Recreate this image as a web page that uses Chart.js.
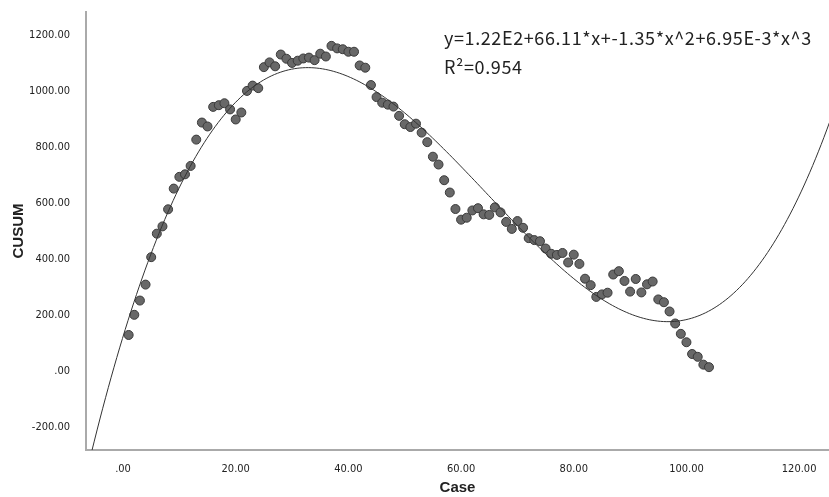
<!DOCTYPE html>
<html>
<head>
<meta charset="utf-8">
<script src="https://cdn.jsdelivr.net/npm/chart.js@4.4.1/dist/chart.umd.min.js"></script>
<style>
  body { margin: 0; background: #fff; }
  #wrap { width: 829px; height: 497px; position: relative; }
</style>
</head>
<body>
<div id="wrap"><canvas id="grafico"></canvas></div>
<script>
// case numbers and CUSUM values
const cases = [1,2,3,4,5,6,7,8,9,10,11,12,13,14,15,16,17,18,19,20,
  21,22,23,24,25,26,27,28,29,30,31,32,33,34,35,36,37,38,39,40,
  41,42,43,44,45,46,47,48,49,50,51,52,53,54,55,56,57,58,59,60,
  61,62,63,64,65,66,67,68,69,70,71,72,73,74,75,76,77,78,79,80,
  81,82,83,84,85,86,87,88,89,90,91,92,93,94,95,96,97,98,99,100,
  101,102,103,104]
const cusum = [128,200,251,308,406,490,516,577,651,693,702,732,826,887,873,943,949,956,934,898,
  923,1000,1019,1010,1085,1102,1088,1130,1115,1100,1108,1116,1119,1110,1133,1123,1161,1152,1149,1140,
  1140,1091,1083,1021,978,958,951,944,911,881,871,883,851,817,765,737,681,637,578,540,
  547,573,581,559,557,584,566,532,507,535,511,474,467,463,437,418,414,421,387,415,
  382,329,306,264,273,279,344,356,321,283,328,280,309,319,255,245,212,169,132,102,
  60,50,22,13]

// cubic fit from the chart: y = b0 + b1*x + b2*x^2 + b3*x^3
const coef = [122, 66.11, -1.35, 6.95e-3]
const equationText = 'y=1.22E2+66.11*x+-1.35*x^2+6.95E-3*x^3'
const r2Text = 'R\u00B2=0.954'

const xTicks = [0, 20, 40, 60, 80, 100, 120]
const yTicks = [-200, 0, 200, 400, 600, 800, 1000, 1200]

const pontos = cases.map((c, i) => ({x: c, y: cusum[i]}))

const curva = []
for (let x = -6.6; x <= 125.4; x += 0.5) {
  curva.push({x: x, y: coef[0] + coef[1]*x + coef[2]*x*x + coef[3]*x*x*x})
}

function fmt(v) {
  let s = Number(v).toFixed(2)
  if (s === '0.00') s = '.00'
  return s
}

const textoEq = {
  id: 'textoEq',
  afterDraw(chart) {
    const ctx = chart.ctx
    ctx.save()
    ctx.fillStyle = '#222'
    ctx.font = '18px "Noto Sans CJK SC", "Noto Sans", sans-serif'
    ctx.letterSpacing = '0.6px'
    ctx.textBaseline = 'middle'
    ctx.textAlign = 'left'
    ctx.fillText(equationText, 444, 38)
    ctx.fillText(r2Text, 444, 67)
    ctx.restore()
  }
}

const ctx = document.getElementById('grafico').getContext('2d')
const graph = new Chart(ctx, {
  type: 'scatter',
  data: {
    datasets: [
      {
        type: 'line',
        data: curva,
        borderColor: '#333',
        borderWidth: 1,
        pointRadius: 0,
        tension: 0,
        fill: false
      },
      {
        data: pontos,
        backgroundColor: '#686868',
        borderColor: '#3a3a3a',
        borderWidth: 1,
        pointRadius: 4.5
      }
    ]
  },
  options: {
    responsive: true,
    maintainAspectRatio: false,
    animation: false,
    layout: { autoPadding: false, padding: { top: 12, right: 0, left: 0, bottom: 0 } },
    plugins: {
      legend: { display: false },
      tooltip: { enabled: false }
    },
    scales: {
      x: {
        type: 'linear',
        min: -6.57,
        max: 125.3,
        grid: { display: false },
        border: { display: true, color: '#aaa', width: 2 },
        afterBuildTicks: s => { s.ticks = xTicks.map(v => ({value: v})) },
        afterFit: s => { s.height = 47; s.paddingLeft = 0; s.paddingRight = 0 },
        ticks: {
          color: '#222',
          padding: 5,
          maxRotation: 0,
          font: { family: '"Liberation Sans Narrow", "DejaVu Sans Condensed", sans-serif', size: 11 },
          callback: v => fmt(v)
        },
        title: {
          display: true,
          text: 'Case',
          color: '#222',
          padding: { top: 8, bottom: 0 },
          font: { family: '"Liberation Sans Narrow", Arial, sans-serif', size: 15, weight: 'bold' }
        }
      },
      y: {
        min: -283,
        max: 1282,
        grid: { display: false },
        border: { display: true, color: '#aaa', width: 2 },
        afterBuildTicks: s => { s.ticks = yTicks.map(v => ({value: v})) },
        afterFit: s => { s.width = 86; s.paddingTop = 0; s.paddingBottom = 0 },
        ticks: {
          color: '#222',
          padding: 8,
          font: { family: '"Liberation Sans Narrow", "DejaVu Sans Condensed", sans-serif', size: 11 },
          callback: v => fmt(v)
        },
        title: {
          display: true,
          text: 'CUSUM',
          color: '#222',
          padding: { top: 10, bottom: 0 },
          font: { family: '"Liberation Sans Narrow", Arial, sans-serif', size: 15, weight: 'bold' }
        }
      }
    }
  },
  plugins: [textoEq]
})
</script>
</body>
</html>
